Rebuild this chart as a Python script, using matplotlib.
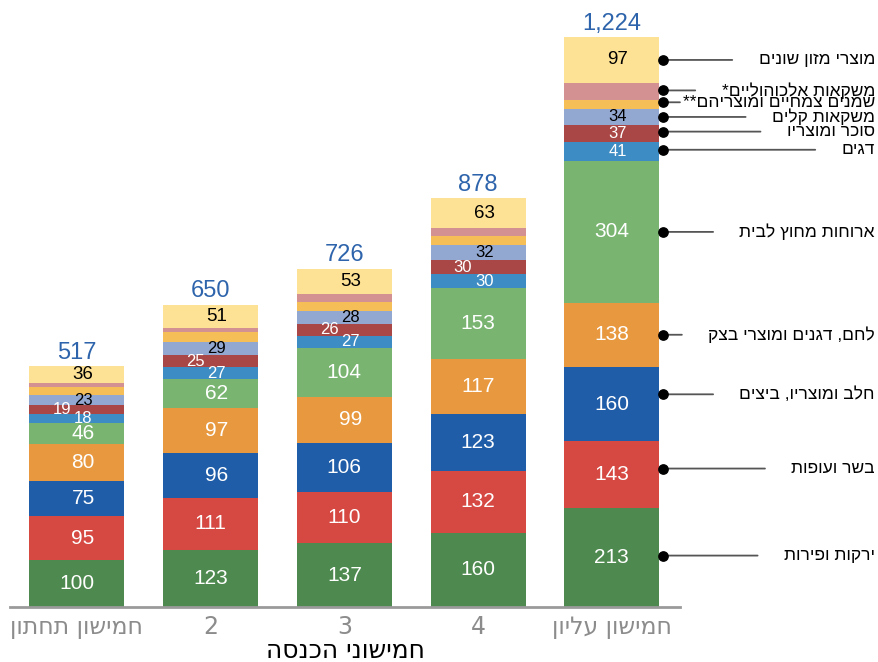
import matplotlib
matplotlib.use("Agg")
import matplotlib.pyplot as plt
import matplotlib.transforms as mtransforms
import numpy as np

# ---------------- data ----------------
quintiles = ["חמישון תחתון", "2", "3", "4", "חמישון עליון"]
categories = [
    "ירקות ופירות",
    "בשר ועופות",
    "חלב ומוצריו, ביצים",
    "לחם, דגנים ומוצרי בצק",
    "ארוחות מחוץ לבית",
    "דגים",
    "סוכר ומוצריו",
    "משקאות קלים",
    "שמנים צמחיים ומוצריהם**",
    "משקאות אלכוהוליים*",
    "מוצרי מזון שונים",
]
veg = [100, 123, 137, 160, 213]
meat = [95, 111, 110, 132, 143]
dairy = [75, 96, 106, 123, 160]
bread = [80, 97, 99, 117, 138]
meals_out = [46, 62, 104, 153, 304]
fish = [18, 27, 27, 30, 41]
sugar = [19, 25, 26, 30, 37]
soft_drinks = [23, 29, 28, 32, 34]
oils = [16, 20, 19, 20, 19]
alcohol = [9, 9, 17, 18, 38]
misc = [36, 51, 53, 63, 97]
totals = [517, 650, 726, 878, 1224]
xlabel = "חמישוני הכנסה"

series = [veg, meat, dairy, bread, meals_out, fish, sugar, soft_drinks, oils, alcohol, misc]

# ---------------- style ----------------
colors = ["#4e8a4f", "#d64842", "#1f5da8", "#e8993f", "#79b571", "#3d8cc3",
          "#a84745", "#93a8d0", "#f6be56", "#d39191", "#fde194"]
label_colors = ["white"] * 7 + ["black", None, None, "black"]
label_sizes = [15, 15, 15, 15, 15, 12, 12, 12, 0, 0, 13.5]
show_label = [True] * 8 + [False, False, True]
# vertical nudge (data units) of the legend pointer relative to the segment centre
pointer_dy = [4, 13, 21, 0, 0, 4, 4, 0, 5, 2, 0]

def rtl(s):
    return s[::-1]

FONT = ["Liberation Sans", "DejaVu Sans"]
NARROW = ["Liberation Sans Narrow", "DejaVu Sans"]
plt.rcParams["font.family"] = FONT

W, H = 879, 662
fig = plt.figure(figsize=(W / 100, H / 100), dpi=100)
ax = fig.add_axes([10 / W, 55 / H, 670 / W, 605 / H])

x = np.arange(len(quintiles))
width = 0.71
bottom = np.zeros(len(quintiles))
centres = []
for i, vals in enumerate(series):
    vals = np.array(vals, dtype=float)
    ax.bar(x, vals, width, bottom=bottom, color=colors[i], linewidth=0, zorder=2)
    centres.append(bottom + vals / 2)
    if show_label[i]:
        for j, v in enumerate(vals):
            dx = 0
            if v < 100:
                dx = 4.5
            if i == 6 and j < 4:
                dx = -11
            ax.annotate(f"{int(v)}", (x[j], bottom[j] + v / 2), xytext=(dx, 0),
                        textcoords="offset points", ha="center", va="center",
                        color=label_colors[i], fontsize=label_sizes[i], zorder=4)
    bottom = bottom + vals

# totals
for j, t in enumerate(totals):
    ax.annotate(f"{t:,}", (x[j], bottom[j]), xytext=(0, 2), textcoords="offset points",
                ha="center", va="bottom", color="#2e64ab", fontsize=17)

# legend pointers on the right of the last bar
last = len(quintiles) - 1
dot_x = x[last] + width / 2 + 0.03
trans = mtransforms.blended_transform_factory(fig.transFigure, ax.transData)
for i, cat in enumerate(categories):
    y = centres[i][last] + pointer_dy[i]
    ax.scatter([dot_x], [y], s=45, color="black", zorder=5, clip_on=False)
    ax.annotate(rtl(cat), xy=(dot_x, y), xycoords="data",
                xytext=(875 / W, y), textcoords=trans,
                ha="right", va="center", fontsize=12.5, color="black",
                arrowprops=dict(arrowstyle="-", color="#555555", lw=1.3,
                                relpos=(0, 0.5), shrinkA=17, shrinkB=0),
                annotation_clip=False)

ax.set_xlim(-0.5, 4.51)
ax.set_ylim(0, 1300)
ax.set_xticks(x)
ax.set_xticklabels([rtl(q) for q in quintiles], fontsize=17, color="#8c8c8c",
                   family=NARROW)
ax.tick_params(axis="x", length=0, pad=6)
ax.set_yticks([])
for s in ["left", "right", "top"]:
    ax.spines[s].set_visible(False)
ax.spines["bottom"].set_color("#9a9a9a")
ax.spines["bottom"].set_linewidth(2)
ax.set_xlabel(rtl(xlabel), fontsize=18, color="black", labelpad=0, family=NARROW)

fig.savefig("out.png", dpi=100)
